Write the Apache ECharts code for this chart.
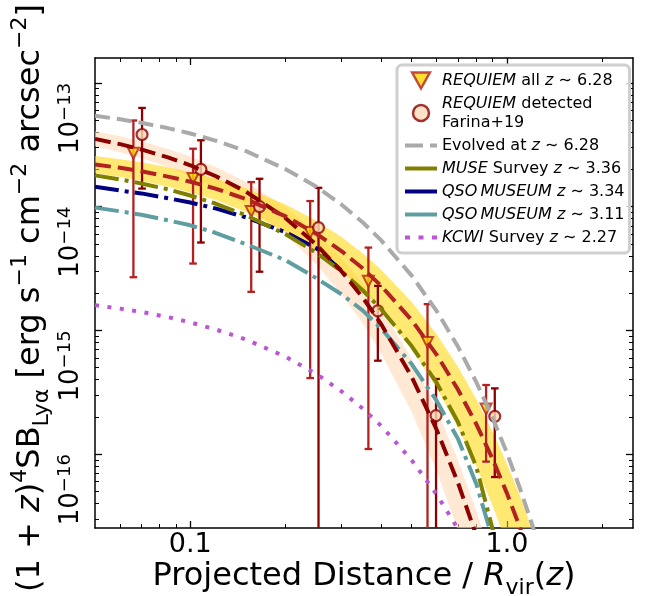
<!DOCTYPE html>
<html><head><meta charset="utf-8">
<script src="https://cdn.jsdelivr.net/npm/echarts@6/dist/echarts.min.js"></script>
<style>html,body{margin:0;padding:0;background:#fff}#c{width:653px;height:596px}</style>
</head><body><div id="c"></div>
<script>
const FONT = 'DejaVu Sans';

// ---- projected distance grid (R / Rvir) for the model curves
const radius = [0.05, 0.06, 0.07, 0.085, 0.1, 0.12, 0.15, 0.2, 0.25, 0.3, 0.35, 0.4, 0.5, 0.6, 0.7, 0.8, 0.9, 1.0, 1.1, 1.2, 1.3];

// ---- model curves (1+z)^4 SB
const evolvedCurve = [5.43e-14, 5.08e-14, 4.76e-14, 4.31e-14, 3.90e-14, 3.42e-14, 2.81e-14, 2.01e-14, 1.45e-14, 1.04e-14, 7.48e-15, 5.37e-15, 2.77e-15, 1.43e-15, 7.40e-16, 3.82e-16, 1.97e-16, 1.02e-16, 5.25e-17, 2.71e-17, 1.40e-17];
const allFit = [2.19e-14, 2.06e-14, 1.93e-14, 1.75e-14, 1.59e-14, 1.40e-14, 1.15e-14, 8.34e-15, 6.04e-15, 4.38e-15, 3.18e-15, 2.30e-15, 1.21e-15, 6.34e-16, 3.33e-16, 1.75e-16, 9.18e-17, 4.82e-17, 2.53e-17, 1.33e-17, 6.97e-18];
const allFitHigh = [2.57e-14, 2.42e-14, 2.28e-14, 2.08e-14, 1.90e-14, 1.69e-14, 1.41e-14, 1.04e-14, 7.69e-15, 5.69e-15, 4.21e-15, 3.11e-15, 1.70e-15, 9.29e-16, 5.08e-16, 2.78e-16, 1.52e-16, 8.34e-17, 4.56e-17, 2.49e-17, 1.36e-17];
const allFitLow = [1.87e-14, 1.74e-14, 1.62e-14, 1.45e-14, 1.30e-14, 1.13e-14, 9.06e-15, 6.30e-15, 4.38e-15, 3.04e-15, 2.11e-15, 1.47e-15, 7.10e-16, 3.42e-16, 1.65e-16, 7.98e-17, 3.85e-17, 1.86e-17, 8.99e-18, 4.35e-18, 2.10e-18];
const detFit = [3.53e-14, 3.20e-14, 2.90e-14, 2.50e-14, 2.16e-14, 1.77e-14, 1.32e-14, 8.07e-15, 4.93e-15, 3.01e-15, 1.85e-15, 1.13e-15, 4.22e-16, 1.57e-16, 5.89e-17, 2.20e-17, 8.22e-18, 3.07e-18, null, null, null];
const detFitHigh = [4.06e-14, 3.70e-14, 3.37e-14, 2.92e-14, 2.54e-14, 2.10e-14, 1.58e-14, 9.90e-15, 6.18e-15, 3.86e-15, 2.41e-15, 1.51e-15, 5.87e-16, 2.29e-16, 8.93e-17, 3.48e-17, 1.36e-17, 5.30e-18, 2.07e-18, 8.1e-19, 3.2e-19];
const detFitLow = [3.08e-14, 2.75e-14, 2.47e-14, 2.09e-14, 1.77e-14, 1.43e-14, 1.03e-14, 5.92e-15, 3.41e-15, 1.97e-15, 1.14e-15, 6.56e-16, 2.19e-16, 7.28e-17, 2.43e-17, 8.07e-18, 2.69e-18, 8.9e-19, 3.0e-19, 1.0e-19, 3.3e-20];
const museSurvey = [1.79e-14, 1.66e-14, 1.54e-14, 1.38e-14, 1.23e-14, 1.06e-14, 8.51e-15, 5.98e-15, 4.24e-15, 3.01e-15, 2.11e-15, 1.49e-15, 7.47e-16, 3.76e-16, 1.82e-16, 7.89e-17, 2.50e-17, 7.5e-18, null, null, null];
const qsoMuseum334 = [1.45e-14, 1.35e-14, 1.28e-14, 1.17e-14, 1.08e-14, 9.68e-15, 8.19e-15, 6.21e-15, 4.61e-15, 3.05e-15, null, null, null, null, null, null, null, null, null, null, null];
const qsoMuseum311 = [9.82e-15, 9.17e-15, 8.59e-15, 7.76e-15, 7.07e-15, 6.15e-15, 4.97e-15, 3.69e-15, 2.64e-15, 1.96e-15, 1.45e-15, 1.04e-15, 5.35e-16, 2.69e-16, 1.33e-16, 5.75e-17, 2.07e-17, null, null, null, null];
const kcwiSurvey = [1.60e-15, 1.50e-15, 1.41e-15, 1.28e-15, 1.16e-15, 1.02e-15, 8.43e-16, 6.12e-16, 4.45e-16, 3.22e-16, 2.34e-16, 1.70e-16, 8.95e-17, 4.72e-17, 2.49e-17, 1.31e-17, null, null, null, null, null];

// ---- REQUIEM stacks
const allX = [0.0661, 0.102, 0.1557, 0.239, 0.365, 0.561, 0.859];
const allY = [2.70e-14, 1.69e-14, 9.16e-15, 6.17e-15, 2.50e-15, 8.0e-16, 2.32e-16];
const allHigh = [4.97e-14, 2.94e-14, 1.58e-14, 1.11e-14, 4.67e-15, 1.63e-15, 3.62e-16];
const allLow = [2.69e-15, 3.47e-15, 2.05e-15, 4.12e-16, 1.10e-16, null, 8.7e-17];
const detX = [0.0704, 0.108, 0.1654, 0.254, 0.391, 0.597, 0.915];
const detY = [3.83e-14, 2.0e-14, 1.0e-14, 6.78e-15, 1.44e-15, 2.05e-16, 2.02e-16];
const detHigh = [6.28e-14, 3.44e-14, 1.68e-14, 1.42e-14, 2.29e-15, 4.05e-16, 3.40e-16];
const detLow = [1.40e-14, 5.13e-15, 2.98e-15, null, 5.69e-16, null, 6.53e-17];

// ---- axis ticks
const xMajor = [0.1, 1];
const xMinor = [0.06, 0.07, 0.08, 0.09, 0.2, 0.3, 0.4, 0.5, 0.6, 0.7, 0.8, 0.9, 2];
const yMajor = [1e-16, 1e-15, 1e-14, 1e-13];
const yMinor = [3e-17, 4e-17, 5e-17, 6e-17, 7e-17, 8e-17, 9e-17, 2e-16, 3e-16, 4e-16, 5e-16, 6e-16, 7e-16, 8e-16, 9e-16, 2e-15, 3e-15, 4e-15, 5e-15, 6e-15, 7e-15, 8e-15, 9e-15, 2e-14, 3e-14, 4e-14, 5e-14, 6e-14, 7e-14, 8e-14, 9e-14];
const xRange = [0.05, 2.5];
const yRange = [2.53e-17, 1.59e-13];

// ---- names
const N_ALL = 'REQUIEM all z ~ 6.28';
const N_DET = 'REQUIEM detected Farina+19';
const N_EVO = 'Evolved at z ~ 6.28';
const N_MUSE = 'MUSE Survey z ~ 3.36';
const N_Q334 = 'QSO MUSEUM z ~ 3.34';
const N_Q311 = 'QSO MUSEUM z ~ 3.11';
const N_KCWI = 'KCWI Survey z ~ 2.27';
const legendText = {};
legendText[N_ALL] = '{i|REQUIEM} all {i|z} \u223C 6.28';
legendText[N_DET] = '{i|REQUIEM} detected\nFarina+19';
legendText[N_EVO] = 'Evolved at {i|z} \u223C 6.28';
legendText[N_MUSE] = '{i|MUSE} Survey {i|z} \u223C 3.36';
legendText[N_Q334] = '{i|QSO\u2009MUSEUM} {i|z} \u223C 3.34';
legendText[N_Q311] = '{i|QSO\u2009MUSEUM} {i|z} \u223C 3.11';
legendText[N_KCWI] = '{i|KCWI} Survey {i|z} \u223C 2.27';

const C = {
  gold: '#FFD700', firebrick: '#B22222', darkred: '#8B0000', peach: '#FFDAB9',
  gray: '#AAAAAA', olive: '#808000', navy: '#000080', teal: '#5F9EA0', orchid: '#BA55D3'
};

function xAxisDef(pos, ticks, len, width, showLine, labels) {
  const a = {
    type: 'log', logBase: 10, min: xRange[0], max: xRange[1], position: pos, gridIndex: 0,
    splitLine: { show: false }, minorTick: { show: false },
    axisLine: { show: showLine, lineStyle: { color: '#000', width: 1.5 } },
    axisTick: { show: true, inside: true, length: len, customValues: ticks, lineStyle: { color: '#000', width: width } },
    axisLabel: { show: false }, axisPointer: { show: false }, silent: true, nameMoveOverlap: false
  };
  if (labels) {
    a.axisLabel = {
      show: true, customValues: ticks, margin: 3, color: '#000', fontFamily: FONT, fontSize: 27,
      formatter: v => Number(v).toFixed(1)
    };
    a.name = 'Projected Distance / {i|R}{sub|vir}({i|z})';
    a.nameLocation = 'middle';
    a.nameGap = 27;
    a.nameTextStyle = {
      color: '#000', fontFamily: FONT, fontSize: 32, lineHeight: 44,
      rich: {
        i: { fontFamily: FONT, fontSize: 32, fontStyle: 'italic', lineHeight: 44, color: '#000' },
        sub: { fontFamily: FONT, fontSize: 22, lineHeight: 22, verticalAlign: 'bottom', color: '#000' }
      }
    };
  }
  return a;
}
function yAxisDef(pos, ticks, len, width, showLine, labels) {
  const a = {
    type: 'log', logBase: 10, min: yRange[0], max: yRange[1], position: pos, gridIndex: 0,
    splitLine: { show: false }, minorTick: { show: false },
    axisLine: { show: showLine, lineStyle: { color: '#000', width: 1.5 } },
    axisTick: { show: true, inside: true, length: len, customValues: ticks, lineStyle: { color: '#000', width: width } },
    axisLabel: { show: false }, axisPointer: { show: false }, silent: true, nameMoveOverlap: false
  };
  if (labels) {
    a.axisLabel = {
      show: true, customValues: ticks, rotate: 90, align: 'right', verticalAlign: 'bottom', margin: 9,
      color: '#000', fontFamily: FONT, fontSize: 26,
      formatter: v => '{m|10}{s|\u2212' + (-Math.round(Math.log10(v))) + '}',
      rich: {
        m: { fontFamily: FONT, fontSize: 26, lineHeight: 30, color: '#000' },
        s: { fontFamily: FONT, fontSize: 18, lineHeight: 18, verticalAlign: 'top', color: '#000' }
      }
    };
    a.name = '(1 + {i|z}){sup|4}SB{sub|Ly\u03B1} [erg s{sup|\u22121} cm{sup|\u22122} arcsec{sup|\u22122}]';
    a.nameLocation = 'middle';
    a.nameRotate = 90;
    a.nameGap = 42;
    a.nameTextStyle = {
      color: '#000', fontFamily: FONT, fontSize: 32, lineHeight: 44, padding: [0, 10, 0, 0],
      rich: {
        i: { fontFamily: FONT, fontSize: 32, fontStyle: 'italic', lineHeight: 44, color: '#000' },
        sup: { fontFamily: FONT, fontSize: 22, lineHeight: 22, verticalAlign: 'top', color: '#000' },
        sub: { fontFamily: FONT, fontSize: 22, lineHeight: 22, verticalAlign: 'bottom', color: '#000' }
      }
    };
  }
  return a;
}

function bandSeries(name, low, high, color) {
  return {
    type: 'custom', name: name, silent: true, animation: false,
    data: radius.map((r, i) => [r, low[i], high[i]]),
    encode: { x: 0, y: [1, 2] },
    renderItem: function (params, api) {
      if (params.dataIndexInside !== 0) return null;
      const n = params.dataInsideLength;
      const up = [], dn = [];
      for (let i = 0; i < n; i++) {
        const x = api.value(0, i);
        up.push(api.coord([x, api.value(2, i)]));
        dn.push(api.coord([x, api.value(1, i)]));
      }
      const cs = params.coordSys;
      return {
        type: 'polygon', shape: { points: up.concat(dn.reverse()) }, style: { fill: color },
        clipPath: { type: 'rect', shape: { x: cs.x, y: cs.y, width: cs.width, height: cs.height } }
      };
    }
  };
}
function curveSeries(name, values, color, dash) {
  return {
    type: 'line', name: name, data: radius.map((r, i) => [r, values[i]]),
    showSymbol: false, symbol: 'none', clip: true, connectNulls: false, animation: false,
    lineStyle: { color: color, width: 4, type: dash, cap: 'butt' },
    itemStyle: { color: color }, emphasis: { disabled: true }, silent: true
  };
}
function errSeries(name, xs, low, high, color) {
  return {
    type: 'custom', name: name, silent: true, animation: false,
    data: xs.map((x, i) => [x, low[i] == null ? NaN : low[i], high[i]]),
    encode: { x: 0, y: [1, 2] },
    renderItem: function (params, api) {
      const x = api.value(0), lo = api.value(1), hi = api.value(2);
      const cs = params.coordSys;
      const pt = api.coord([x, hi]);
      const hasLo = isFinite(lo) && lo > 0;
      const yb = hasLo ? api.coord([x, lo])[1] : cs.y + cs.height;
      const cx = pt[0], hw = 3.8;
      const st = { stroke: color, lineWidth: 2.3, fill: null };
      const ch = [
        { type: 'line', shape: { x1: cx, y1: pt[1], x2: cx, y2: yb }, style: st },
        { type: 'line', shape: { x1: cx - hw, y1: pt[1], x2: cx + hw, y2: pt[1] }, style: st }
      ];
      if (hasLo) ch.push({ type: 'line', shape: { x1: cx - hw, y1: yb, x2: cx + hw, y2: yb }, style: st });
      return { type: 'group', children: ch };
    }
  };
}

const chart = echarts.init(document.getElementById('c'), null, { renderer: 'canvas' });
chart.setOption({
  animation: false,
  backgroundColor: '#ffffff',
  grid: { left: 95, top: 58, width: 538, height: 470, containLabel: false, outerBoundsMode: 'none' },
  xAxis: [
    xAxisDef('bottom', xMajor, 7, 1.3, true, true),
    xAxisDef('bottom', xMinor, 4, 1, false, false),
    xAxisDef('top', xMajor, 7, 1.3, true, false),
    xAxisDef('top', xMinor, 4, 1, false, false)
  ],
  yAxis: [
    yAxisDef('left', yMajor, 7, 1.3, true, true),
    yAxisDef('left', yMinor, 4, 1, false, false),
    yAxisDef('right', yMajor, 7, 1.3, true, false),
    yAxisDef('right', yMinor, 4, 1, false, false)
  ],
  legend: {
    orient: 'vertical', left: 397, top: 65, itemGap: 4, itemWidth: 32, itemHeight: 16,
    padding: [6, 5, 6, 8], backgroundColor: 'rgba(255,255,255,0.8)', borderColor: '#cfcfcf',
    borderWidth: 3, borderRadius: 5, selectedMode: false, z: 10,
    textStyle: {
      fontFamily: FONT, fontSize: 16, color: '#000', lineHeight: 19,
      rich: { i: { fontFamily: FONT, fontSize: 16, fontStyle: 'italic', color: '#000', lineHeight: 19 } }
    },
    formatter: name => legendText[name],
    data: [
      { name: N_ALL, icon: 'path://M0,0L10,0L5,9Z', itemStyle: { color: C.gold, borderColor: C.firebrick, borderWidth: 2.5 } },
      { name: N_DET, icon: 'circle', itemStyle: { color: C.peach, borderColor: C.darkred, borderWidth: 2.5 } },
      { name: N_EVO, icon: 'path://M0,0H18V4H0ZM25,0H32V4H25Z', itemStyle: { color: C.gray, borderWidth: 0 } },
      { name: N_MUSE, icon: 'path://M0,0H32V4H0Z', itemStyle: { color: C.olive, borderWidth: 0 } },
      { name: N_Q334, icon: 'path://M0,0H32V4H0Z', itemStyle: { color: C.navy, borderWidth: 0 } },
      { name: N_Q311, icon: 'path://M0,0H32V4H0Z', itemStyle: { color: C.teal, borderWidth: 0 } },
      { name: N_KCWI, icon: 'path://M0,0H5V4H0ZM13.5,0H18.5V4H13.5ZM27,0H32V4H27Z', itemStyle: { color: C.orchid, borderWidth: 0 } }
    ]
  },
  series: [
    curveSeries(N_Q311, qsoMuseum311, C.teal, [24, 6, 4, 6]),
    curveSeries(N_Q334, qsoMuseum334, C.navy, [24, 6, 4, 6]),
    curveSeries(N_MUSE, museSurvey, C.olive, [24, 6, 4, 6]),
    curveSeries(N_KCWI, kcwiSurvey, C.orchid, [4, 8.5]),
    bandSeries('detected band', detFitLow, detFitHigh, 'rgba(255,218,185,0.6)'),
    bandSeries('all band', allFitLow, allFitHigh, 'rgba(255,215,0,0.55)'),
    curveSeries('detected fit', detFit, C.darkred, [16, 7]),
    curveSeries('all fit', allFit, C.firebrick, [16, 7]),
    curveSeries(N_EVO, evolvedCurve, C.gray, [15, 7]),
    errSeries('all err', allX, allLow, allHigh, C.firebrick),
    {
      type: 'scatter', name: N_ALL, data: allX.map((x, i) => [x, allY[i]]), symbol: 'triangle', symbolRotate: 180,
      symbolSize: 11, itemStyle: { color: C.gold, borderColor: C.firebrick, borderWidth: 2 }, emphasis: { disabled: true }, silent: true
    },
    errSeries('det err', detX, detLow, detHigh, C.darkred),
    {
      type: 'scatter', name: N_DET, data: detX.map((x, i) => [x, detY[i]]), symbol: 'circle',
      symbolSize: 11, itemStyle: { color: C.peach, borderColor: C.darkred, borderWidth: 2.2 }, emphasis: { disabled: true }, silent: true
    }
  ]
});
</script></body></html>
